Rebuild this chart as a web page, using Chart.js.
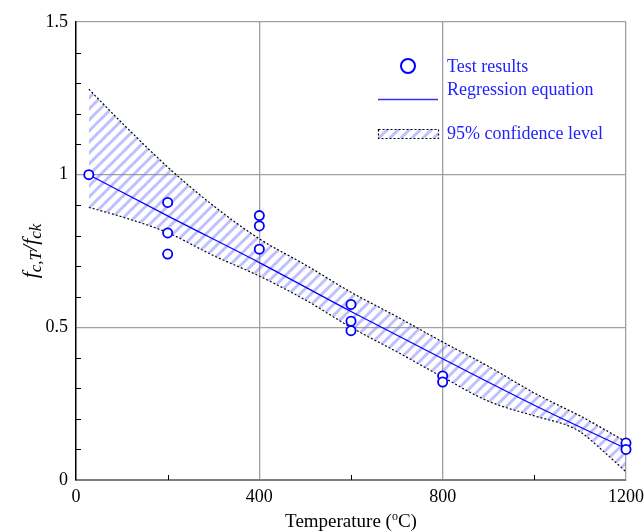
<!DOCTYPE html>
<html>
<head>
<meta charset="utf-8">
<script src="https://cdn.jsdelivr.net/npm/chart.js@4.4.0/dist/chart.umd.min.js"></script>
<style>
  html, body { margin: 0; padding: 0; background: #fff; }
  #wrap { width: 644px; height: 531px; }
</style>
</head>
<body>
<div id="wrap"><canvas id="chart"></canvas></div>
<script>
// test results (temperature, fc,T/fck)
const testTemp  = [28, 200, 200, 200, 400, 400, 400, 600, 600, 600, 800, 800, 1200, 1200];
const testRatio = [1.0, 0.909, 0.809, 0.740, 0.866, 0.832, 0.756, 0.575, 0.520, 0.489, 0.341, 0.321, 0.121, 0.100];

// regression curve
const regTemp  = [28, 200, 400, 600, 800, 1000, 1200];
const regRatio = [1.0, 0.865, 0.712, 0.552, 0.397, 0.245, 0.103];

// 95% confidence band
const bandTemp  = [28, 100, 200, 300, 400, 500, 600, 700, 800, 900, 1000, 1070, 1100, 1150, 1200];
const upperBand = [1.28, 1.17, 1.025, 0.898, 0.79, 0.705, 0.615, 0.535, 0.452, 0.372, 0.285, 0.232, 0.21, 0.168, 0.125];
const lowerBand = [0.893, 0.862, 0.81, 0.735, 0.668, 0.59, 0.50, 0.42, 0.337, 0.258, 0.21, 0.18, 0.158, 0.095, 0.027];

const legendLabels = ["Test results", "Regression equation", "95% confidence level"];

const serif = "'Liberation Serif', 'Times New Roman', serif";
const blue = "#0000ff";

function pts(xs, ys) {
  return xs.map((x, i) => ({ x: x, y: ys[i] }));
}

function hatch() {
  const p = document.createElement("canvas");
  p.width = 11; p.height = 11;
  const g = p.getContext("2d");
  g.strokeStyle = "rgba(115,115,255,0.45)";
  g.lineWidth = 3;
  g.beginPath();
  g.moveTo(-5.5, 5.5); g.lineTo(5.5, -5.5);
  g.moveTo(0, 11); g.lineTo(11, 0);
  g.moveTo(5.5, 16.5); g.lineTo(16.5, 5.5);
  g.stroke();
  return g.createPattern(p, "repeat");
}
const hatchFill = hatch();

function isMajorY(v) { return Math.abs(v * 2 - Math.round(v * 2)) < 1e-6; }
function isMajorX(v) { return Math.round(v) % 400 === 0; }

// inward minor ticks, axis titles and legend
const extras = {
  id: "extras",
  afterDatasetsDraw(chart) {
    const { ctx, chartArea: a, scales: { x, y } } = chart;
    ctx.save();
    ctx.strokeStyle = "#000";
    ctx.lineWidth = 1;
    y.ticks.forEach(t => {
      if (isMajorY(t.value)) return;
      const py = Math.round(y.getPixelForValue(t.value)) + 0.5;
      ctx.beginPath(); ctx.moveTo(a.left, py); ctx.lineTo(a.left + 5, py); ctx.stroke();
    });
    x.ticks.forEach(t => {
      if (isMajorX(t.value)) return;
      const px = Math.round(x.getPixelForValue(t.value)) + 0.5;
      ctx.beginPath(); ctx.moveTo(px, a.bottom); ctx.lineTo(px, a.bottom - 5); ctx.stroke();
    });
    ctx.restore();
  },
  afterDraw(chart) {
    const { ctx, chartArea: a } = chart;
    ctx.save();

    // x title with superscript o
    ctx.fillStyle = "#000";
    ctx.textBaseline = "alphabetic";
    const big = "19px " + serif, small = "12px " + serif;
    ctx.font = big;
    const w1 = ctx.measureText("Temperature (").width;
    const w3 = ctx.measureText("C)").width;
    ctx.font = small;
    const w2 = ctx.measureText("o").width;
    let xx = (a.left + a.right) / 2 - (w1 + w2 + w3) / 2;
    const by = 527;
    ctx.font = big; ctx.fillText("Temperature (", xx, by); xx += w1;
    ctx.font = small; ctx.fillText("o", xx, by - 7); xx += w2;
    ctx.font = big; ctx.fillText("C)", xx, by);

    // y title f c,T / f ck
    ctx.translate(37, (a.top + a.bottom) / 2);
    ctx.rotate(-Math.PI / 2);
    const parts = [["f", 22, 0], ["c,T", 17, 4], ["/f", 22, 0], ["ck", 17, 4]];
    let tw = 0;
    parts.forEach(p => { ctx.font = "italic " + p[1] + "px " + serif; tw += ctx.measureText(p[0]).width; });
    let cx = -tw / 2;
    parts.forEach(p => {
      ctx.font = "italic " + p[1] + "px " + serif;
      ctx.fillText(p[0], cx, p[2]);
      cx += ctx.measureText(p[0]).width;
    });
    ctx.restore();

    // legend
    ctx.save();
    ctx.strokeStyle = blue;
    ctx.lineWidth = 2;
    ctx.beginPath(); ctx.arc(408, 66, 7, 0, Math.PI * 2); ctx.stroke();
    ctx.strokeStyle = "#3030ff";
    ctx.lineWidth = 1.5;
    ctx.beginPath(); ctx.moveTo(378, 99.5); ctx.lineTo(438, 99.5); ctx.stroke();
    ctx.fillStyle = hatchFill;
    ctx.fillRect(378, 129, 60, 9);
    ctx.strokeStyle = "#000";
    ctx.lineWidth = 1.2;
    ctx.setLineDash([2, 2]);
    ctx.strokeRect(378.5, 129.5, 60, 9);
    ctx.setLineDash([]);
    ctx.fillStyle = "#1f1fff";
    ctx.font = "18px " + serif;
    ctx.textBaseline = "middle";
    ctx.fillText(legendLabels[0], 447, 67);
    ctx.fillText(legendLabels[1], 447, 90);
    ctx.fillText(legendLabels[2], 447, 134);
    ctx.restore();
  }
};

new Chart(document.getElementById("chart"), {
  type: "scatter",
  data: {
    datasets: [
      {
        label: legendLabels[0],
        data: pts(testTemp, testRatio),
        pointStyle: "circle",
        pointRadius: 4.6,
        pointBorderWidth: 1.8,
        borderColor: blue,
        backgroundColor: "#fff",
        clip: false
      },
      {
        label: legendLabels[1],
        data: pts(regTemp, regRatio),
        showLine: true,
        borderColor: blue,
        borderWidth: 1.2,
        pointRadius: 0,
        cubicInterpolationMode: "monotone"
      },
      {
        label: legendLabels[2],
        data: pts(bandTemp, upperBand),
        showLine: true,
        borderColor: "#000",
        borderWidth: 1.2,
        borderDash: [2, 2],
        pointRadius: 0,
        fill: "+1",
        backgroundColor: hatchFill,
        cubicInterpolationMode: "monotone"
      },
      {
        label: "lower",
        data: pts(bandTemp, lowerBand),
        showLine: true,
        borderColor: "#000",
        borderWidth: 1.2,
        borderDash: [2, 2],
        pointRadius: 0,
        fill: false,
        cubicInterpolationMode: "monotone"
      }
    ]
  },
  options: {
    responsive: true,
    maintainAspectRatio: false,
    devicePixelRatio: 1,
    animation: false,
    layout: { padding: { top: 22, right: 18, left: 0, bottom: 0 } },
    plugins: { legend: { display: false }, tooltip: { enabled: false } },
    scales: {
      x: {
        type: "linear",
        min: 0, max: 1200,
        afterFit(s) { s.height = 51; s.paddingRight = 0; s.paddingLeft = 0; },
        ticks: {
          stepSize: 200,
          padding: 6,
          color: "#000",
          font: { family: serif, size: 18 },
          autoSkip: false,
          maxRotation: 0,
          callback: v => isMajorX(v) ? String(v) : ""
        },
        grid: {
          drawTicks: false,
          lineWidth: 1.3,
          color: c => (isMajorX(c.tick.value) && c.tick.value > 0) ? "#a0a0a0" : "rgba(0,0,0,0)"
        },
        border: { color: "#808080", width: 2 }
      },
      y: {
        min: 0, max: 1.5,
        afterFit(s) { s.width = 76; s.paddingTop = 0; s.paddingBottom = 0; },
        ticks: {
          stepSize: 0.1,
          padding: 8,
          color: "#000",
          font: { family: serif, size: 18 },
          autoSkip: false,
          callback: v => isMajorY(v) ? String(Math.round(v * 10) / 10) : ""
        },
        grid: {
          drawTicks: false,
          lineWidth: 1.3,
          color: c => (isMajorY(c.tick.value) && c.tick.value > 0) ? "#a0a0a0" : "rgba(0,0,0,0)"
        },
        border: { color: "#000", width: 1.5 }
      }
    }
  },
  plugins: [extras]
});
</script>
</body>
</html>
